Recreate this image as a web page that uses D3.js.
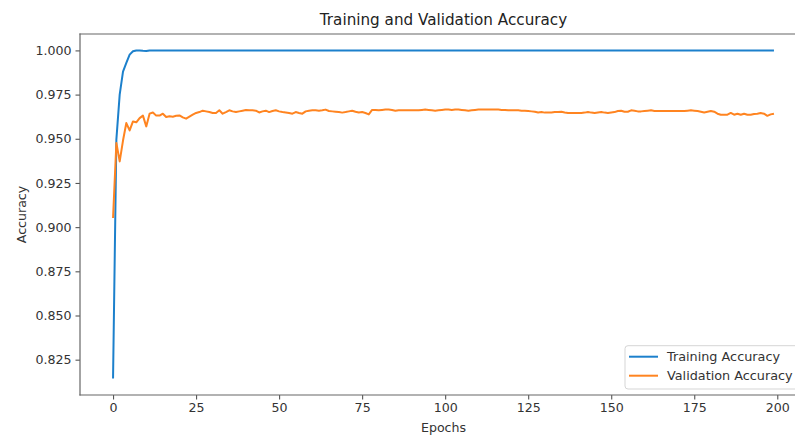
<!DOCTYPE html>
<html>
<head>
<meta charset="utf-8">
<script src="https://cdn.jsdelivr.net/npm/d3@7"></script>
<style>
  body { margin: 0; background: #fff; overflow: hidden; }
  svg { display: block; overflow: hidden; font-family: "DejaVu Sans", sans-serif; }
</style>
</head>
<body>
<div id="chart"></div>
<script>
// accuracy per epoch
var trainAcc = [
  0.8143, 0.9495, 0.9750, 0.9880, 0.9929, 0.9976, 0.9995, 1.0000, 1.0000, 0.9998,
  0.9997, 1.0000, 1.0000, 1.0000, 1.0000, 1.0000, 1.0000, 1.0000, 1.0000, 1.0000,
  1.0000, 1.0000, 1.0000, 1.0000, 1.0000, 1.0000, 1.0000, 1.0000, 1.0000, 1.0000,
  1.0000, 1.0000, 1.0000, 1.0000, 1.0000, 1.0000, 1.0000, 1.0000, 1.0000, 1.0000,
  1.0000, 1.0000, 1.0000, 1.0000, 1.0000, 1.0000, 1.0000, 1.0000, 1.0000, 1.0000,
  1.0000, 1.0000, 1.0000, 1.0000, 1.0000, 1.0000, 1.0000, 1.0000, 1.0000, 1.0000,
  1.0000, 1.0000, 1.0000, 1.0000, 1.0000, 1.0000, 1.0000, 1.0000, 1.0000, 1.0000,
  1.0000, 1.0000, 1.0000, 1.0000, 1.0000, 1.0000, 1.0000, 1.0000, 1.0000, 1.0000,
  1.0000, 1.0000, 1.0000, 1.0000, 1.0000, 1.0000, 1.0000, 1.0000, 1.0000, 1.0000,
  1.0000, 1.0000, 1.0000, 1.0000, 1.0000, 1.0000, 1.0000, 1.0000, 1.0000, 1.0000,
  1.0000, 1.0000, 1.0000, 1.0000, 1.0000, 1.0000, 1.0000, 1.0000, 1.0000, 1.0000,
  1.0000, 1.0000, 1.0000, 1.0000, 1.0000, 1.0000, 1.0000, 1.0000, 1.0000, 1.0000,
  1.0000, 1.0000, 1.0000, 1.0000, 1.0000, 1.0000, 1.0000, 1.0000, 1.0000, 1.0000,
  1.0000, 1.0000, 1.0000, 1.0000, 1.0000, 1.0000, 1.0000, 1.0000, 1.0000, 1.0000,
  1.0000, 1.0000, 1.0000, 1.0000, 1.0000, 1.0000, 1.0000, 1.0000, 1.0000, 1.0000,
  1.0000, 1.0000, 1.0000, 1.0000, 1.0000, 1.0000, 1.0000, 1.0000, 1.0000, 1.0000,
  1.0000, 1.0000, 1.0000, 1.0000, 1.0000, 1.0000, 1.0000, 1.0000, 1.0000, 1.0000,
  1.0000, 1.0000, 1.0000, 1.0000, 1.0000, 1.0000, 1.0000, 1.0000, 1.0000, 1.0000,
  1.0000, 1.0000, 1.0000, 1.0000, 1.0000, 1.0000, 1.0000, 1.0000, 1.0000, 1.0000,
  1.0000, 1.0000, 1.0000, 1.0000, 1.0000, 1.0000, 1.0000, 1.0000, 1.0000, 1.0000
];

var valAcc = [
  0.9052, 0.9476, 0.9372, 0.9490, 0.9589, 0.9547, 0.9598, 0.9593, 0.9617, 0.9631,
  0.9570, 0.9642, 0.9649, 0.9631, 0.9631, 0.9642, 0.9623, 0.9627, 0.9625, 0.9630,
  0.9632, 0.9621, 0.9614, 0.9625, 0.9636, 0.9646, 0.9651, 0.9659, 0.9655, 0.9651,
  0.9646, 0.9646, 0.9661, 0.9642, 0.9651, 0.9661, 0.9655, 0.9651, 0.9655, 0.9659,
  0.9663, 0.9661, 0.9661, 0.9659, 0.9649, 0.9655, 0.9659, 0.9651, 0.9657, 0.9661,
  0.9655, 0.9651, 0.9649, 0.9646, 0.9642, 0.9651, 0.9646, 0.9642, 0.9655, 0.9659,
  0.9661, 0.9661, 0.9659, 0.9661, 0.9665, 0.9657, 0.9655, 0.9653, 0.9651, 0.9648,
  0.9651, 0.9655, 0.9659, 0.9653, 0.9649, 0.9651, 0.9646, 0.9638, 0.9663, 0.9663,
  0.9661, 0.9663, 0.9665, 0.9665, 0.9663, 0.9659, 0.9661, 0.9661, 0.9661, 0.9661,
  0.9661, 0.9661, 0.9661, 0.9663, 0.9665, 0.9663, 0.9661, 0.9659, 0.9661, 0.9663,
  0.9665, 0.9665, 0.9663, 0.9665, 0.9665, 0.9663, 0.9661, 0.9659, 0.9661, 0.9663,
  0.9665, 0.9665, 0.9665, 0.9665, 0.9665, 0.9665, 0.9665, 0.9663, 0.9663, 0.9661,
  0.9661, 0.9661, 0.9661, 0.9659, 0.9659, 0.9657, 0.9655, 0.9653, 0.9649, 0.9651,
  0.9648, 0.9648, 0.9649, 0.9651, 0.9651, 0.9653, 0.9649, 0.9646, 0.9646, 0.9646,
  0.9646, 0.9646, 0.9648, 0.9651, 0.9648, 0.9646, 0.9649, 0.9651, 0.9648, 0.9646,
  0.9649, 0.9651, 0.9657, 0.9659, 0.9653, 0.9653, 0.9661, 0.9659, 0.9655, 0.9655,
  0.9657, 0.9659, 0.9661, 0.9657, 0.9657, 0.9657, 0.9657, 0.9657, 0.9657, 0.9657,
  0.9657, 0.9657, 0.9657, 0.9659, 0.9661, 0.9659, 0.9657, 0.9653, 0.9649, 0.9653,
  0.9657, 0.9653, 0.9642, 0.9636, 0.9636, 0.9636, 0.9646, 0.9636, 0.9642, 0.9636,
  0.9642, 0.9636, 0.9636, 0.9640, 0.9642, 0.9646, 0.9642, 0.9630, 0.9638, 0.9642
];

var xTicks = [0, 25, 50, 75, 100, 125, 150, 175, 200];
var yTicks = [0.825, 0.850, 0.875, 0.900, 0.925, 0.950, 0.975, 1.000];
var seriesNames = ["Training Accuracy", "Validation Accuracy"];
var seriesColors = ["#1c80cc", "#ff8420"];

var width = 795, height = 437;
var margin = { top: 34, right: -12, bottom: 42, left: 80 };
var plotW = width - margin.left - margin.right,
    plotH = height - margin.top - margin.bottom;

var svg = d3.select("#chart").append("svg")
    .attr("width", width)
    .attr("height", height);

// matplotlib style 5% padding on both axes
var n = trainAcc.length;
var xPad = (n - 1) * 0.05;
var allVals = trainAcc.concat(valAcc);
var yMin = d3.min(allVals), yMax = d3.max(allVals);
var yPad = (yMax - yMin) * 0.05;

var x = d3.scaleLinear()
    .domain([-xPad, n - 1 + xPad])
    .range([0, plotW]);
var y = d3.scaleLinear()
    .domain([yMin - yPad, yMax + yPad])
    .range([plotH, 0]);

var g = svg.append("g")
    .attr("transform", "translate(" + margin.left + "," + margin.top + ")");

g.append("clipPath").attr("id", "clip")
  .append("rect").attr("width", plotW).attr("height", plotH);

// lines
var line = d3.line()
    .x(function(d, i) { return x(i); })
    .y(function(d) { return y(d); });

[trainAcc, valAcc].forEach(function(series, k) {
    g.append("path")
        .datum(series)
        .attr("clip-path", "url(#clip)")
        .attr("fill", "none")
        .attr("stroke", seriesColors[k])
        .attr("stroke-width", 2)
        .attr("stroke-linejoin", "round")
        .attr("d", line);
});

// axes
var xAxis = g.append("g")
    .attr("transform", "translate(0," + plotH + ")")
    .call(d3.axisBottom(x).tickValues(xTicks).tickFormat(d3.format("d")).tickSize(4.5).tickPadding(4));
var yAxis = g.append("g")
    .call(d3.axisLeft(y).tickValues(yTicks).tickFormat(d3.format(".3f")).tickSize(4.5).tickPadding(4));

[xAxis, yAxis].forEach(function(ax) {
    ax.select(".domain").remove();
    ax.selectAll(".tick line").attr("stroke", "#555").attr("stroke-width", 1.1);
    ax.selectAll(".tick text")
        .attr("fill", "#333")
        .style("font-size", "12.6px")
        .style("font-family", "DejaVu Sans");
});

// spines (the right one falls outside the picture)
var spines = [
    [0, 0, 0, plotH],
    [0, 0, plotW, 0],
    [0, plotH, plotW, plotH]
];
g.selectAll(".spine")
    .data(spines)
    .enter().append("line")
    .attr("class", "spine")
    .attr("x1", function(d) { return d[0]; })
    .attr("y1", function(d) { return d[1]; })
    .attr("x2", function(d) { return d[2]; })
    .attr("y2", function(d) { return d[3]; })
    .attr("stroke", "#666")
    .attr("stroke-width", 1.2)
    .attr("stroke-linecap", "square");

// title and axis labels
svg.append("text")
    .attr("x", margin.left + plotW / 2)
    .attr("y", 25)
    .attr("text-anchor", "middle")
    .style("font-size", "15.2px")
    .attr("fill", "#222")
    .text("Training and Validation Accuracy");

svg.append("text")
    .attr("x", margin.left + plotW / 2)
    .attr("y", 432)
    .attr("text-anchor", "middle")
    .style("font-size", "12.6px")
    .attr("fill", "#333")
    .text("Epochs");

svg.append("text")
    .attr("transform", "translate(26," + (margin.top + plotH / 2) + ") rotate(-90)")
    .attr("text-anchor", "middle")
    .style("font-size", "12.6px")
    .attr("fill", "#333")
    .text("Accuracy");

// legend, lower right
var legend = g.append("g")
    .attr("transform", "translate(" + (plotW - 182) + "," + (plotH - 49.3) + ")");

legend.append("rect")
    .attr("width", 178)
    .attr("height", 43.3)
    .attr("rx", 3)
    .attr("fill", "#fff")
    .attr("fill-opacity", 0.8)
    .attr("stroke", "#d5d5d5");

seriesNames.forEach(function(name, i) {
    var ly = 11 + i * 19;
    legend.append("line")
        .attr("x1", 4).attr("x2", 33)
        .attr("y1", ly).attr("y2", ly)
        .attr("stroke", seriesColors[i])
        .attr("stroke-width", 2);
    legend.append("text")
        .attr("x", 42)
        .attr("y", ly)
        .attr("dy", "0.35em")
        .style("font-size", "12.8px")
        .attr("fill", "#333")
        .text(name);
});
</script>
</body>
</html>
